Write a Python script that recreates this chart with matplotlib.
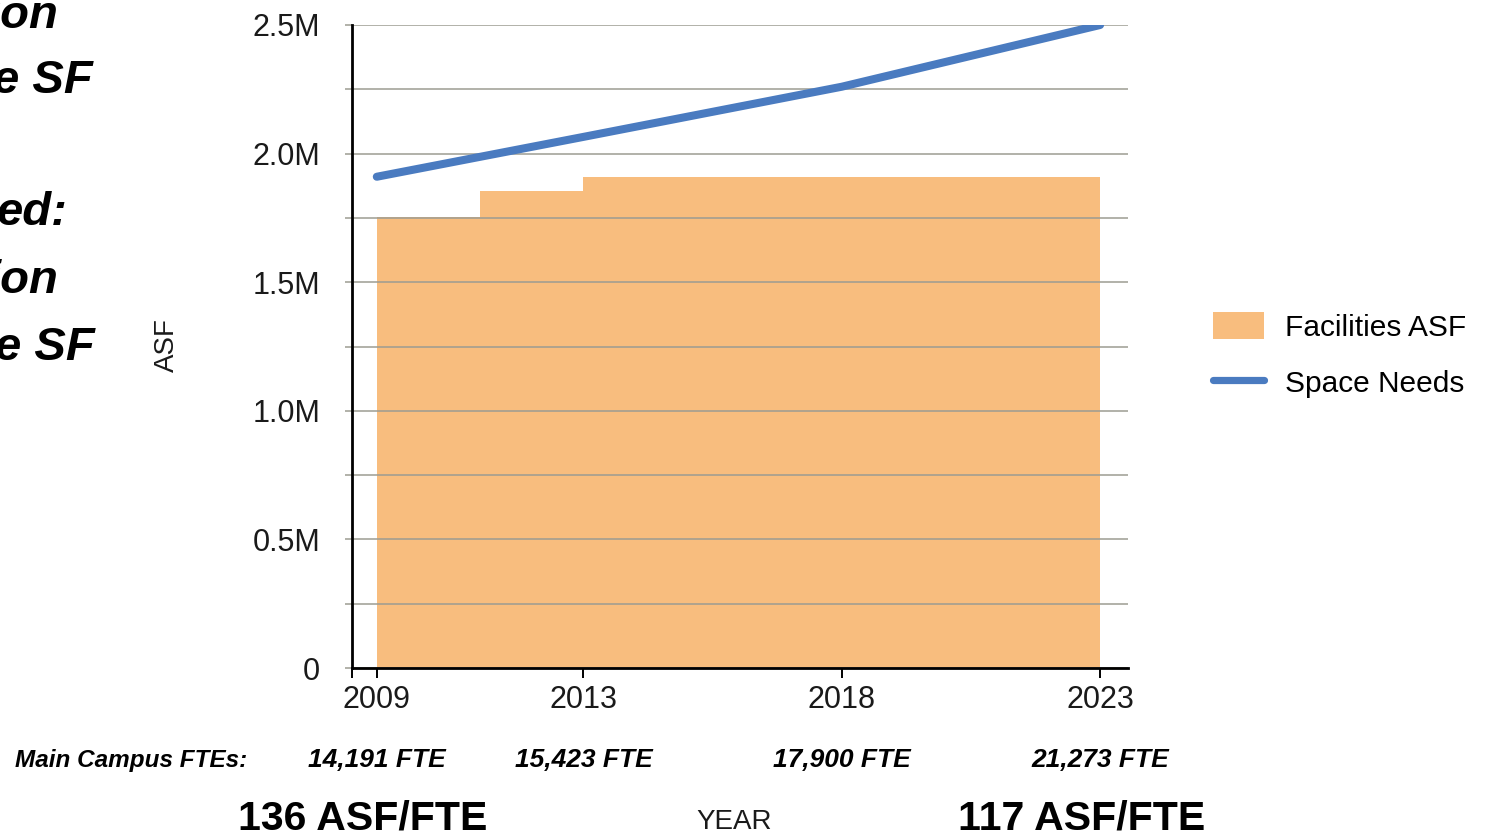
import matplotlib
matplotlib.use('Agg')
import matplotlib.pyplot as plt
import matplotlib.transforms as mtransforms
from matplotlib.patches import Patch
from matplotlib.lines import Line2D
from matplotlib.ticker import FixedLocator

# ---- data (ASF values in millions) ----
facility_years = [2009, 2011, 2013, 2023]
facilities_asf = [1.755, 1.855, 1.91, 1.91]
needs_years = [2009, 2013, 2018, 2023]
space_needs = [1.91, 2.065, 2.26, 2.50]

tick_years = [2009, 2013, 2018, 2023]
fte_labels = ['14,191 FTE', '15,423 FTE', '17,900 FTE', '21,273 FTE']
y_ticks = [0, 0.5, 1.0, 1.5, 2.0, 2.5]
y_tick_labels = ['0', '0.5M', '1.0M', '1.5M', '2.0M', '2.5M']
y_minor = [0.25, 0.75, 1.25, 1.75, 2.25]
ratio_labels = ['136 ASF/FTE', '117 ASF/FTE']
side_text = ['ion', 'e SF', 'ed:', 'ion', 'e SF']

orange = '#f8bd7e'
blue = '#4a7bc0'
grid_col = '#9c9c92'
regular = ['Liberation Sans', 'DejaVu Sans']

plt.rcParams['font.family'] = regular

fig = plt.figure(figsize=[14.88, 8.36], dpi=100)
W, H = 1488., 836.
ax = fig.add_axes([352/W, 1-668/H, (1128-352)/W, (668-25)/H])

ax.fill_between(facility_years, facilities_asf, step='post', color=orange,
                linewidth=0, zorder=1)
ax.plot(needs_years, space_needs, color=blue, lw=5.8, solid_capstyle='round',
        zorder=3)

ax.set_xlim(2008.52, 2023.54)
ax.set_ylim(0, 2.5)

ax.set_yticks(y_ticks)
ax.set_yticklabels(y_tick_labels)
ax.yaxis.set_minor_locator(FixedLocator(y_minor))
ax.set_xticks(tick_years)
ax.set_xticklabels([str(y) for y in tick_years])
ax.xaxis.set_minor_locator(FixedLocator([2008.52]))

ax.set_axisbelow('line')
ax.grid(True, which='both', axis='y', color=grid_col, lw=1.1)
ax.tick_params(axis='y', which='both', length=5, width=1.1, color=grid_col,
               pad=18, labelsize=22, labelcolor='#1a1a1a')
ax.tick_params(axis='x', which='both', length=7, width=1.4, color='black',
               pad=5, labelsize=22, labelcolor='#1a1a1a')

for s in ['top', 'right']:
    ax.spines[s].set_visible(False)
for s in ['left', 'bottom']:
    ax.spines[s].set_linewidth(2.0)
    ax.spines[s].set_color('black')

# axis titles
fig.text(167/W, 1-345/H, 'ASF', rotation=90, ha='center', va='center',
         fontsize=20, color='#1a1a1a')
fig.text(734/W, 1-829/H, 'YEAR', ha='center', va='baseline', fontsize=20,
         color='#1a1a1a')

# legend
handles = [Patch(facecolor=orange, edgecolor='none'),
           Line2D([0], [0], color=blue, lw=5.2, solid_capstyle='round')]
fig.legend(handles, ['Facilities ASF', 'Space Needs'], loc='upper left',
           bbox_to_anchor=(1213/W, 1-312/H), frameon=False, fontsize=21.5,
           handlelength=1.7, handleheight=1.0, handletextpad=0.7,
           labelspacing=0.9, borderpad=0, borderaxespad=0)

# FTE row under the axis
trans = mtransforms.blended_transform_factory(ax.transData, fig.transFigure)
fig.text(15/W, 1-767/H, 'Main Campus FTEs:', ha='left', va='baseline',
         fontsize=17.5, fontweight='bold', fontstyle='italic')
for yr, lab in zip(tick_years, fte_labels):
    ax.text(yr, 1-767/H, lab, transform=trans, ha='center', va='baseline',
            fontsize=19, fontweight='bold', fontstyle='italic')

# ASF per FTE
for xc, lab in zip([363, 1082], ratio_labels):
    fig.text(xc/W, 1-829/H, lab, ha='center', va='baseline', fontsize=29.5,
             fontweight='bold')

# clipped text at the left edge
for (xr, yb), t in zip([(58, 28), (93, 93), (67, 225), (58, 293), (95, 360)],
                       side_text):
    fig.text(xr/W, 1-yb/H, t, ha='right', va='baseline', fontsize=34,
             fontweight='bold', fontstyle='italic')

fig.savefig('out.png', dpi=100)
